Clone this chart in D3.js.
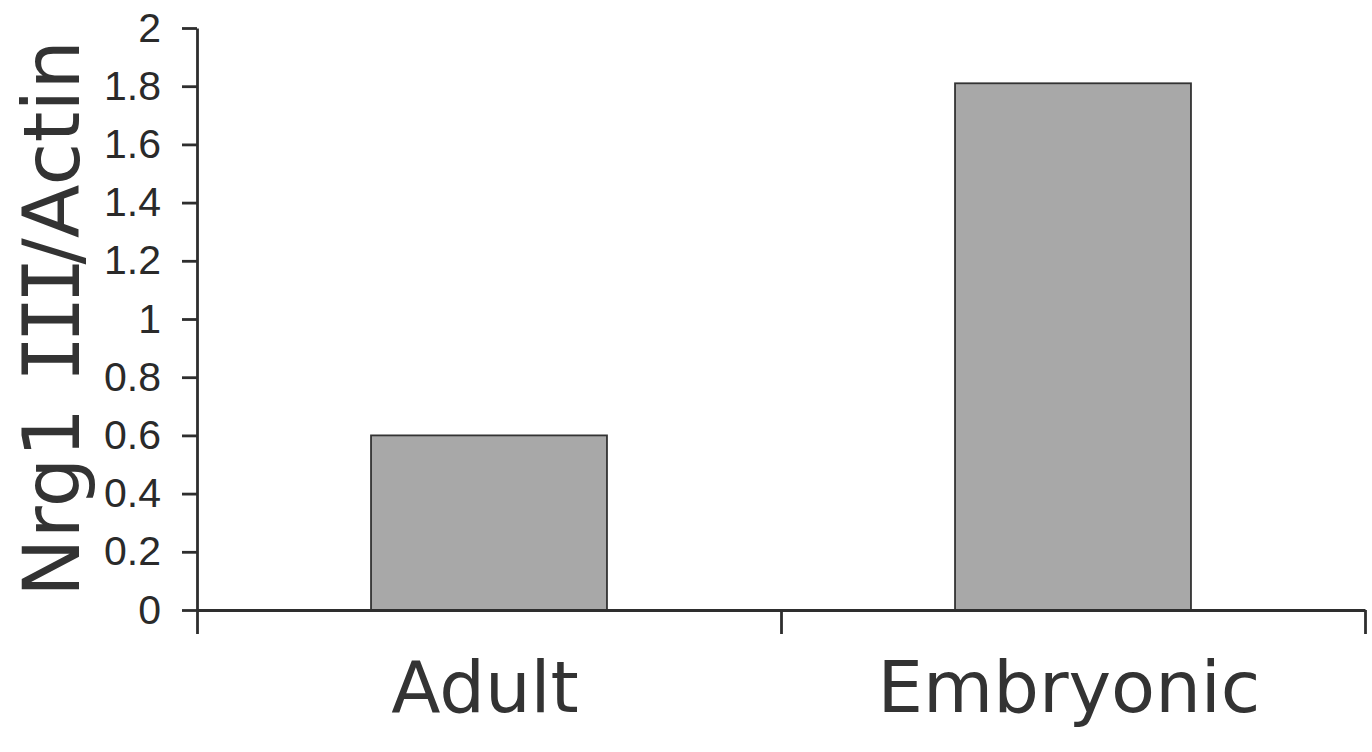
<!DOCTYPE html>
<html>
<head>
<meta charset="utf-8">
<script src="https://cdn.jsdelivr.net/npm/d3@7"></script>
<style>
  html, body { margin: 0; padding: 0; background: #ffffff; }
  svg { display: block; }
</style>
</head>
<body>
<svg id="chart" width="1372" height="752"></svg>
<script>
const categories = ["Adult", "Embryonic"];
const values = [0.6, 1.81];
const yTicks = [0, 0.2, 0.4, 0.6, 0.8, 1, 1.2, 1.4, 1.6, 1.8, 2];
const yTickLabels = ["0", "0.2", "0.4", "0.6", "0.8", "1", "1.2", "1.4", "1.6", "1.8", "2"];
const yTitle = "Nrg1 III/Actin";

(function () {
const svg = d3.select("#chart");
const mLeft = 197, mRight = 1365, mTop = 28, mBottom = 610;
const ink = "#2e2e2e";

const y = d3.scaleLinear().domain([0, 2]).range([mBottom, mTop]);
const x = d3.scaleBand().domain(categories).range([mLeft, mRight])
  .paddingInner(0.596).paddingOuter(0.298);
const xEdges = d3.scaleLinear().domain([0, categories.length]).range([mLeft, mRight]);

// bars
svg.append("g").selectAll("rect").data(values).join("rect")
  .attr("x", (d, i) => x(categories[i]))
  .attr("width", x.bandwidth())
  .attr("y", d => y(d))
  .attr("height", d => y(0) - y(d))
  .attr("fill", "#a8a8a8")
  .attr("stroke", "#333")
  .attr("stroke-width", 1.8);

// y axis
const yAxis = svg.append("g").attr("transform", `translate(${mLeft},0)`)
  .call(d3.axisLeft(y).tickValues(yTicks)
    .tickFormat((d, i) => yTickLabels[i]).tickSize(15).tickPadding(21).tickSizeOuter(0));
yAxis.select(".domain").attr("stroke", ink).attr("stroke-width", 2.8);
yAxis.selectAll(".tick line").attr("stroke", ink).attr("stroke-width", 2.8);
yAxis.selectAll(".tick text")
  .attr("font-family", "'Liberation Sans', Arial, sans-serif")
  .attr("font-size", 41).attr("fill", "#2a2a2a");

// x axis (ticks at category boundaries)
const xAxis = svg.append("g").attr("transform", `translate(0,${mBottom})`)
  .call(d3.axisBottom(xEdges).tickValues(d3.range(categories.length + 1))
    .tickFormat("").tickSize(24).tickSizeOuter(0));
xAxis.select(".domain").attr("stroke", ink).attr("stroke-width", 2.8);
xAxis.selectAll(".tick line").attr("stroke", ink).attr("stroke-width", 2.8);

// category labels
svg.append("g").selectAll("text").data(categories).join("text")
  .attr("x", d => x(d) + x.bandwidth() / 2 - 4)
  .attr("y", 712)
  .attr("text-anchor", "middle")
  .attr("font-family", "'DejaVu Sans', Verdana, sans-serif")
  .attr("font-size", 72)
  .attr("fill", "#333")
  .text(d => d);

// y title
const t = svg.append("text")
  .attr("transform", `translate(79,${(40 + 597) / 2}) rotate(-90)`)
  .attr("text-anchor", "middle")
  .attr("font-family", "'DejaVu Sans', Verdana, sans-serif")
  .attr("font-size", 78)
  .attr("fill", "#333")
  .attr("textLength", 557)
  .attr("lengthAdjust", "spacing");
const parts = yTitle.split(/(III)/);
parts.forEach(p => {
  const ts = t.append("tspan").text(p);
  if (p === "III") ts.attr("font-family", "'DejaVu Sans Mono', monospace").attr("letter-spacing", -8);
});
})();
</script>
</body>
</html>
